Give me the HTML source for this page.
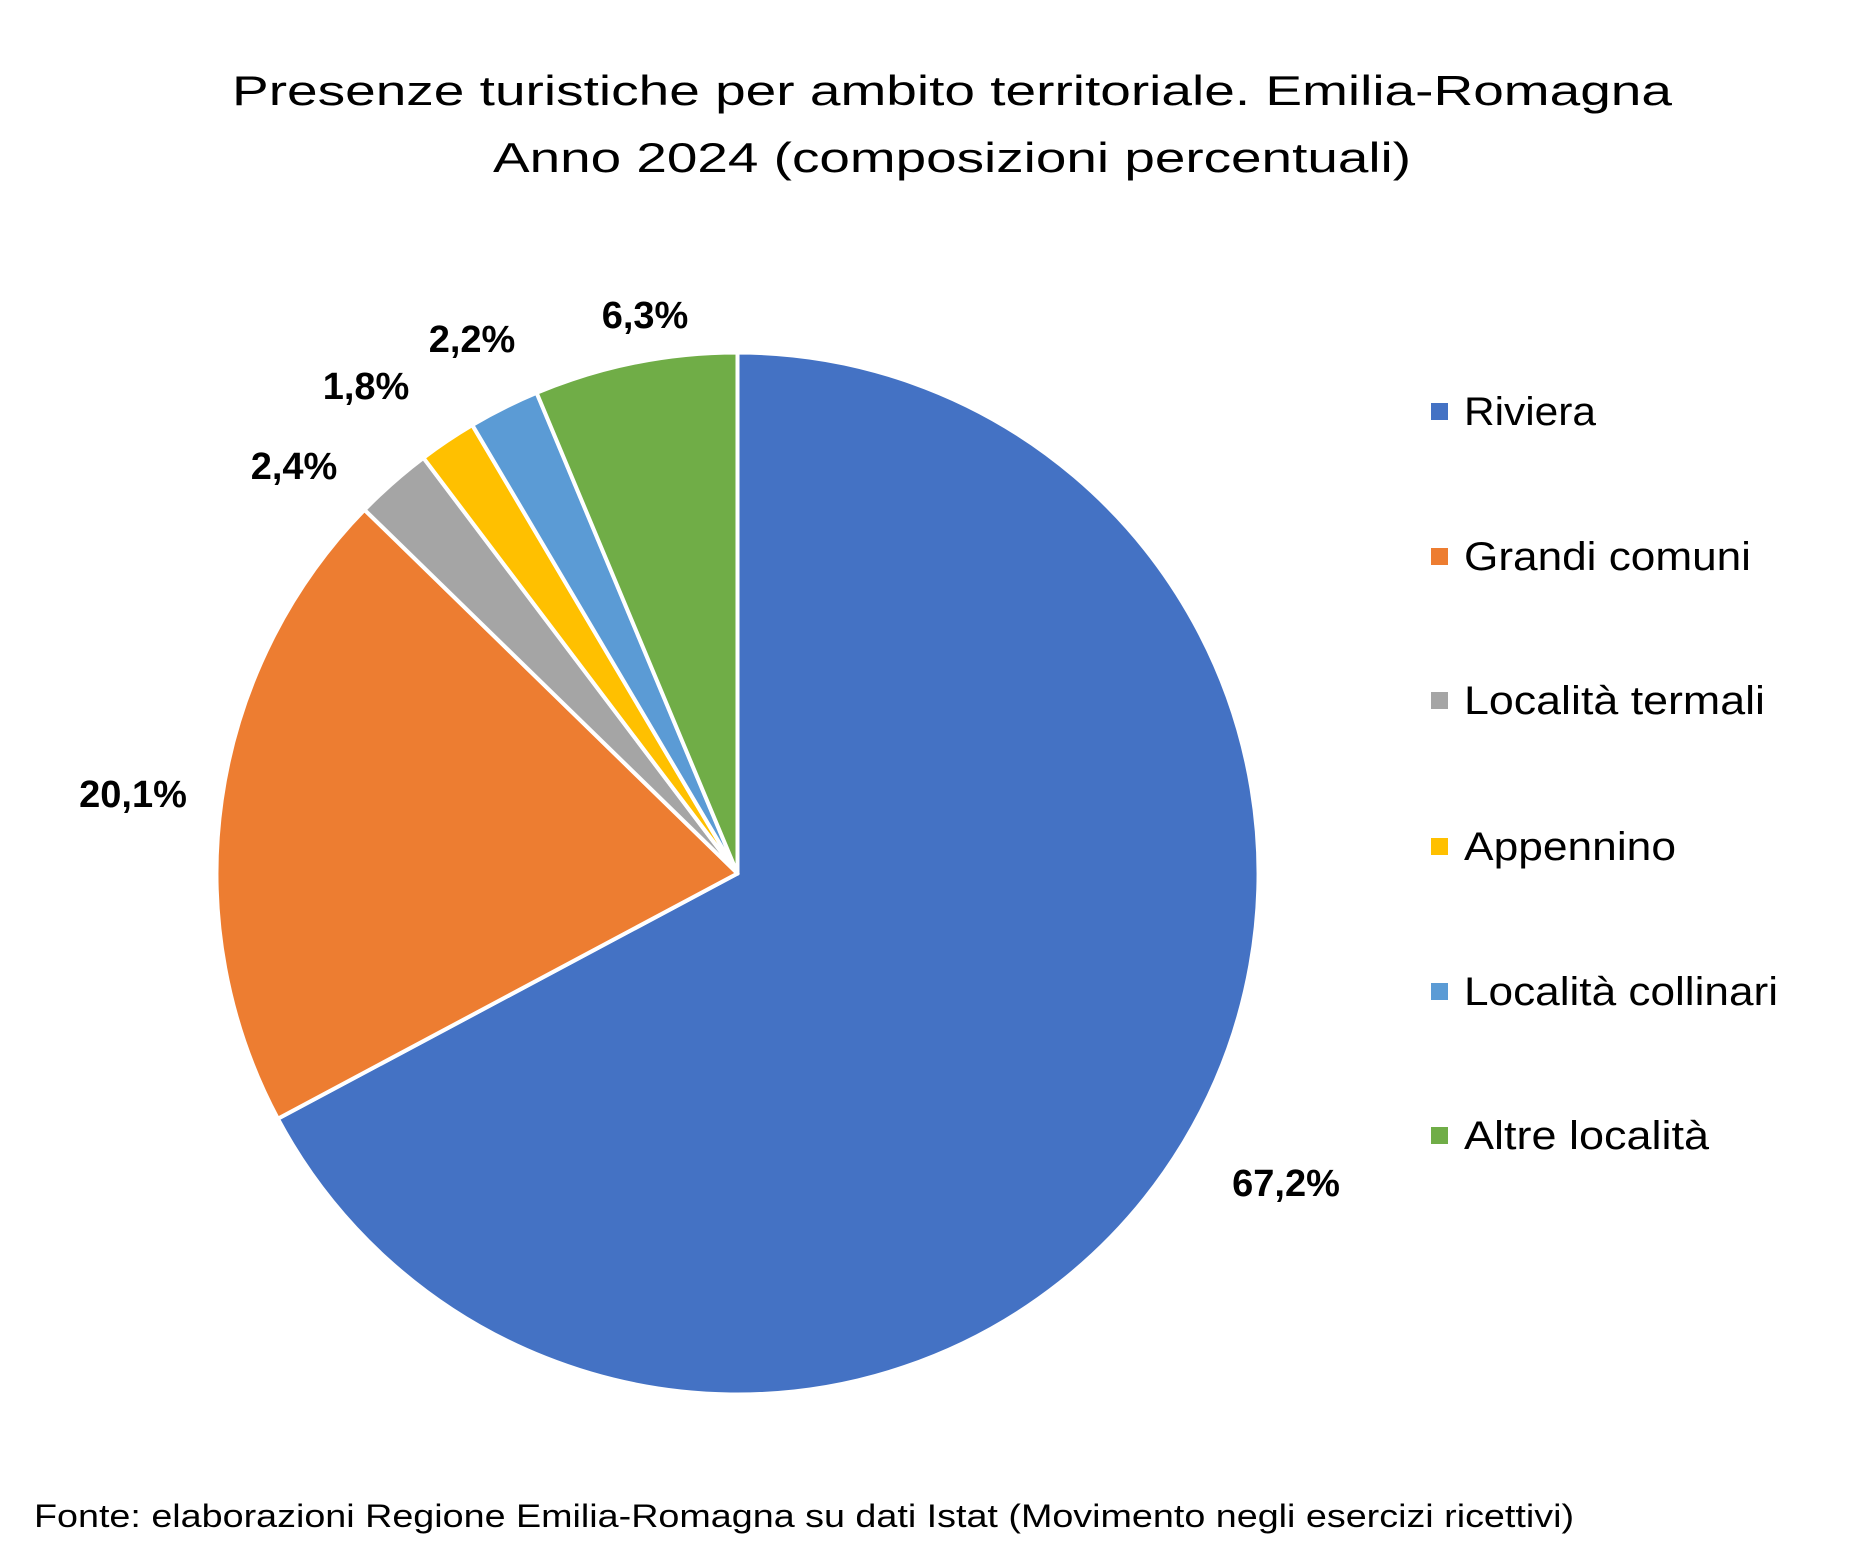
<!DOCTYPE html>
<html><head><meta charset="utf-8"><style>
html,body{margin:0;padding:0;background:#fff;}
svg{display:block;}
text{font-family:"Liberation Sans",sans-serif;fill:#000;}
</style></head><body>
<svg id="s" width="1849" height="1565" viewBox="0 0 1849 1565" xmlns="http://www.w3.org/2000/svg">
<rect width="1849" height="1565" fill="#fff"/>
<text x="952" y="105" font-size="42" text-anchor="middle" textLength="1440" lengthAdjust="spacingAndGlyphs">Presenze turistiche per ambito territoriale. Emilia-Romagna</text>
<text x="952" y="172" font-size="42" text-anchor="middle" textLength="918" lengthAdjust="spacingAndGlyphs">Anno 2024 (composizioni percentuali)</text>
<g id="pie"></g>
<g font-size="38" font-weight="bold" text-anchor="middle">
<text x="1286" y="1196">67,2%</text>
<text x="133" y="807">20,1%</text>
<text x="294" y="479">2,4%</text>
<text x="366" y="399">1,8%</text>
<text x="472" y="352">2,2%</text>
<text x="645" y="328">6,3%</text>
</g>
<g font-size="40" lengthAdjust="spacingAndGlyphs">
<rect x="1431" y="403" width="17" height="17" fill="#4472C4"/><text x="1464" y="425" textLength="132" lengthAdjust="spacingAndGlyphs">Riviera</text>
<rect x="1431" y="548" width="17" height="17" fill="#ED7D31"/><text x="1464" y="570" textLength="287" lengthAdjust="spacingAndGlyphs">Grandi comuni</text>
<rect x="1431" y="692" width="17" height="17" fill="#A5A5A5"/><text x="1464" y="714" textLength="301" lengthAdjust="spacingAndGlyphs">Località termali</text>
<rect x="1431" y="838" width="17" height="17" fill="#FFC000"/><text x="1464" y="860" textLength="212" lengthAdjust="spacingAndGlyphs">Appennino</text>
<rect x="1431" y="983" width="17" height="17" fill="#5B9BD5"/><text x="1464" y="1005" textLength="314" lengthAdjust="spacingAndGlyphs">Località collinari</text>
<rect x="1431" y="1127" width="17" height="17" fill="#70AD47"/><text x="1464" y="1149" textLength="245" lengthAdjust="spacingAndGlyphs">Altre località</text>
</g>
<text x="34" y="1527" font-size="32" textLength="1540" lengthAdjust="spacingAndGlyphs">Fonte: elaborazioni Regione Emilia-Romagna su dati Istat (Movimento negli esercizi ricettivi)</text>
</svg>
<script>
var v=[67.2,20.1,2.4,1.8,2.2,6.3],c=["#4472C4","#ED7D31","#A5A5A5","#FFC000","#5B9BD5","#70AD47"];
var cx=737.5,cy=873.5,r=521,a=0,h="";
for(var i=0;i<v.length;i++){var a2=a+v[i]/100*2*Math.PI;
var x1=cx+r*Math.sin(a),y1=cy-r*Math.cos(a),x2=cx+r*Math.sin(a2),y2=cy-r*Math.cos(a2);
h+='<path d="M'+cx+' '+cy+' L'+x1+' '+y1+' A'+r+' '+r+' 0 '+((a2-a)>Math.PI?1:0)+' 1 '+x2+' '+y2+' Z" fill="'+c[i]+'" stroke="#fff" stroke-width="4" stroke-linejoin="round"/>';a=a2;}
document.getElementById("pie").innerHTML=h;
</script>
</body></html>
